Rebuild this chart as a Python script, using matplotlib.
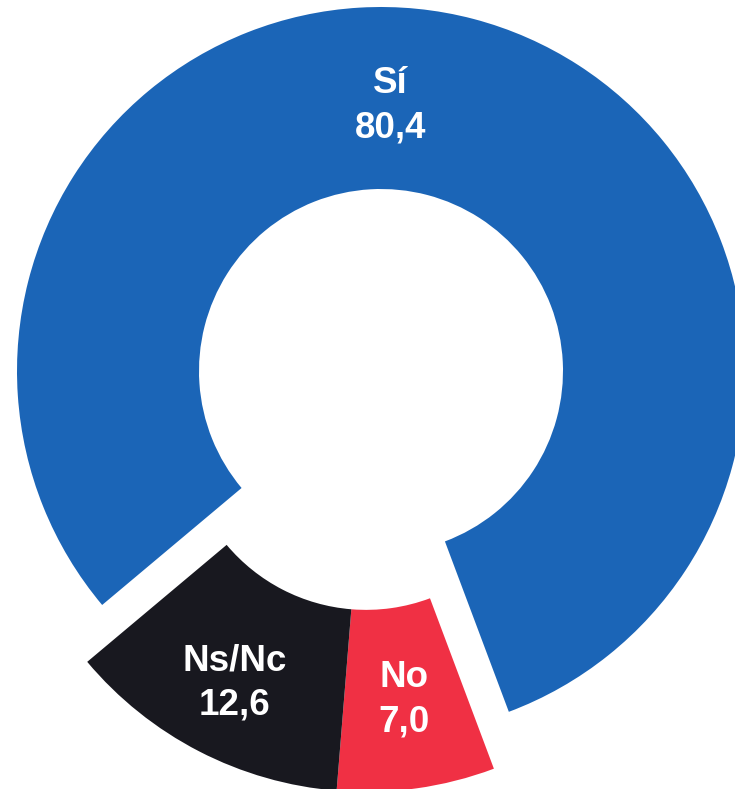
import numpy as np
import matplotlib
matplotlib.use("Agg")
import matplotlib.pyplot as plt

categories = ["Sí", "No", "Ns/Nc"]
values = [80.4, 7.0, 12.6]
value_labels = ["80,4", "7,0", "12,6"]
colors = ["#1b65b7", "#f03044", "#18181f"]

W, H = 735, 789
fig = plt.figure(figsize=(W / 100, H / 100), dpi=100)
ax = fig.add_axes([0, 0, 1, 1])

cx, cy = 381, 418
R = 364
width = 182

wedges, _ = ax.pie(values, colors=colors, startangle=220, counterclock=False,
                   radius=R, center=(cx, cy),
                   wedgeprops=dict(width=width, linewidth=0))

# explode "No" and "Ns/Nc" together as one group
t_lo = min(min(w.theta1, w.theta2) for w in wedges[1:])
t_hi = max(max(w.theta1, w.theta2) for w in wedges[1:])
gmid = np.deg2rad((t_lo + t_hi) / 2)
off = 58.8
dx, dy = off * np.cos(gmid), off * np.sin(gmid)
for w in wedges[1:]:
    w.set_center((cx + dx, cy + dy))

def mid_angle(w):
    return np.deg2rad((w.theta1 + w.theta2) / 2)

label_specs = [
    (np.deg2rad(88), 265, 0, 0),
    (mid_angle(wedges[1]), 275, dx, dy),
    (mid_angle(wedges[2]), 287, dx, dy),
]
for (ang, r, ox, oy), cat, vl in zip(label_specs, categories, value_labels):
    x = cx + ox + r * np.cos(ang)
    y = cy + oy + r * np.sin(ang)
    ax.text(x, y, f"{cat}\n{vl}", ha="center", va="center", color="white",
            fontsize=26.5, fontweight="bold", family=["Liberation Sans", "DejaVu Sans"],
            linespacing=1.35)

ax.set_xlim(0, W)
ax.set_ylim(0, H)
ax.set_aspect("equal")
ax.axis("off")
fig.savefig("out.png", dpi=100)
